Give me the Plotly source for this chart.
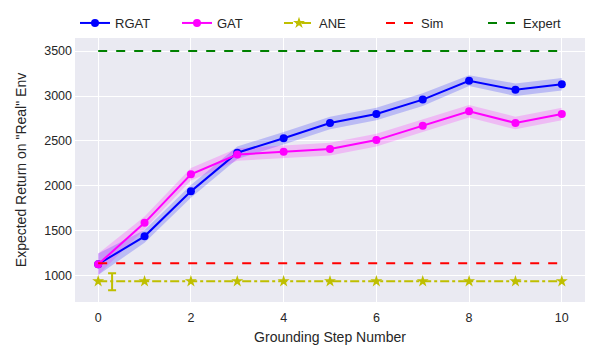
import plotly.graph_objects as go

steps = list(range(11))
rgat = [1130, 1440, 1940, 2370, 2530, 2700, 2800, 2960, 3170, 3070, 3130]
rgat_std = [120, 70, 70, 70, 70, 70, 70, 70, 60, 70, 70]
gat = [1130, 1590, 2130, 2350, 2380, 2410, 2510, 2670, 2830, 2700, 2800]
gat_std = [120, 70, 70, 70, 70, 70, 70, 70, 70, 70, 70]
ane = [940] * 11
ane_err_x = [0.3]
ane_err_y = [935]
ane_err = [95]
sim_x = [0, 10]
sim_y = [1140, 1140]
expert_x = [0, 10]
expert_y = [3500, 3500]

fig = go.Figure()

def band(x, m, s, color):
    upper = [a + b for a, b in zip(m, s)]
    lower = [a - b for a, b in zip(m, s)]
    fig.add_trace(go.Scatter(x=x + x[::-1], y=upper + lower[::-1], fill="toself",
                             fillcolor=color, line=dict(width=0), mode="lines",
                             showlegend=False, hoverinfo="skip"))

band(steps, rgat, rgat_std, "rgba(0,0,255,0.2)")
band(steps, gat, gat_std, "rgba(255,0,255,0.2)")

fig.add_trace(go.Scatter(x=steps, y=rgat, name="RGAT", mode="lines+markers",
                         line=dict(color="#0000ff", width=2), marker=dict(size=8, color="#0000ff")))
fig.add_trace(go.Scatter(x=steps, y=gat, name="GAT", mode="lines+markers",
                         line=dict(color="#ff00ff", width=2), marker=dict(size=8, color="#ff00ff")))
fig.add_trace(go.Scatter(x=steps, y=ane, name="ANE", mode="lines+markers",
                         line=dict(color="#bfbf00", width=2, dash="dashdot"),
                         marker=dict(symbol="star", size=9, color="#bfbf00")))
fig.add_trace(go.Scatter(x=ane_err_x, y=ane_err_y, mode="markers", showlegend=False,
                         marker=dict(size=1, color="rgba(0,0,0,0)"),
                         error_y=dict(type="data", array=ane_err, color="#bfbf00", thickness=2, width=4)))
fig.add_trace(go.Scatter(x=sim_x, y=sim_y, name="Sim", mode="lines",
                         line=dict(color="#ff0000", width=2, dash="dash")))
fig.add_trace(go.Scatter(x=expert_x, y=expert_y, name="Expert", mode="lines",
                         line=dict(color="#008000", width=2, dash="dash")))

fig.update_layout(
    width=600, height=360,
    margin=dict(l=67, r=23, t=30, b=66, autoexpand=False),
    paper_bgcolor="white", plot_bgcolor="#eaeaf2",
    font=dict(family="Liberation Sans, Arial, sans-serif", size=12, color="#262626"),
    legend=dict(orientation="h", x=0, xanchor="left", y=1.0, yanchor="bottom",
                entrywidth=57, font=dict(size=13), bgcolor="white",
                itemwidth=30),
    showlegend=True,
)
fig.update_xaxes(range=[-0.5, 10.5], tickvals=[0, 2, 4, 6, 8, 10], gridcolor="white",
                 gridwidth=1, zeroline=False, showline=False, ticks="",
                 tickfont=dict(size=12.5), ticklabelstandoff=6,
                 title=dict(text="Grounding Step Number", font=dict(size=14), standoff=8))
fig.update_yaxes(range=[710, 3645], tickvals=[1000, 1500, 2000, 2500, 3000, 3500], gridcolor="white",
                 gridwidth=1, zeroline=False, showline=False, ticks="",
                 tickfont=dict(size=12.5), ticklabelstandoff=2,
                 title=dict(text='Expected Return on "Real" Env', font=dict(size=14), standoff=14))

fig.write_html("out.html")
